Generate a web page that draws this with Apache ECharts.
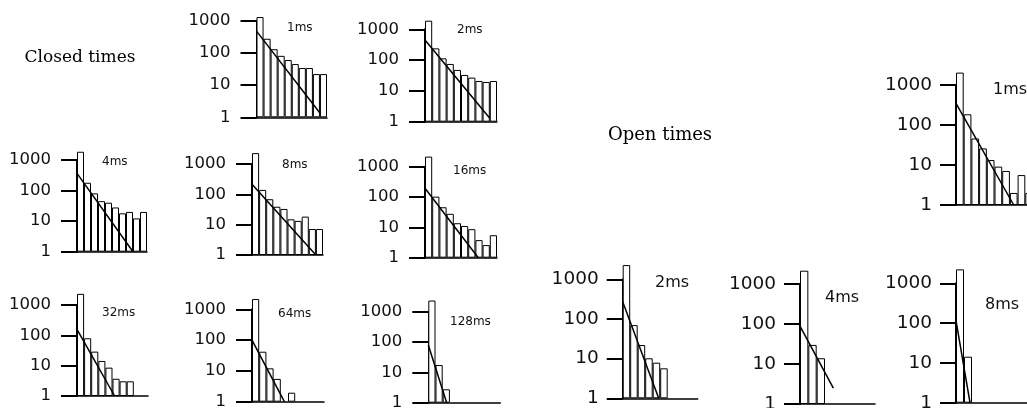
<!DOCTYPE html>
<html>
<head>
<meta charset="utf-8">
<script src="https://cdn.jsdelivr.net/npm/echarts@6/dist/echarts.min.js"></script>
<style>
html, body { margin: 0; padding: 0; background: #fff; }
#chart { width: 1027px; height: 408px; }
</style>
</head>
<body>
<div id="chart"></div>
<script>
// bin counts (log scale), null = empty bin
const closed1ms = [1300, 275, 130, 81, 60, 45, 34, 34, 22, 22];
const closed2ms = [1900, 240, 114, 75, 48, 33, 27, 21, 19.5, 21];
const closed4ms = [1860, 180, 81, 45, 40, 28, 18, 20, 12.3, 20];
const closed8ms = [2280, 140, 69, 39, 33, 15, 13.3, 18.4, 7.2, 7.2];
const closed16ms = [2150, 103, 46, 28, 13.7, 11.1, 8.7, 3.8, 2.6, 5.5];
const closed32ms = [2330, 80, 29, 14.3, 8.6, 3.7, 3.05, 3.05, null, null];
const closed64ms = [2150, 42, 12.1, 5.5, null, 1.96, null, null, null, null];
const closed128ms = [2330, 17.5, 2.77, null, null, null, null, null, null, null];
const open1ms = [2040, 185, 46, 26, 13.3, 9.1, 7.1, 2.0, 5.6, 2.0];
const open2ms = [2280, 70, 22, 10.2, 7.9, 5.7, null, null, null, null];
const open4ms = [2150, 30, 13.9, null, null, null, null, null, null];
const open8ms = [2240, 14.3, null, null, null, null, null, null, null, null];

// fitted exponential: [bin position, count] at both ends
const fitClosed1ms = [[0, 475], [9, 1.36]];
const fitClosed2ms = [[0, 450], [9, 1.3]];
const fitClosed4ms = [[0, 365], [8, 1]];
const fitClosed8ms = [[0, 215], [9, 1]];
const fitClosed16ms = [[0, 195], [7.4, 1]];
const fitClosed32ms = [[0, 158], [5.3, 1]];
const fitClosed64ms = [[0, 100], [4.5, 1]];
const fitClosed128ms = [[0, 80], [2.55, 1]];
const fitOpen1ms = [[0, 347], [7.5, 1]];
const fitOpen2ms = [[0, 270], [4.8, 1]];
const fitOpen4ms = [[0, 89], [4, 2.5]];
const fitOpen8ms = [[0, 115], [1.75, 1]];

const yTicks = [1, 10, 100, 1000];

// plot boxes [left, top, width, height] and where the bin-width tag sits
const panels = [
    { tag: '1ms', bars: closed1ms, fit: fitClosed1ms, box: [256.5, 20.7, 70.5, 96.6], at: [287, 27.5], big: false },
    { tag: '2ms', bars: closed2ms, fit: fitClosed2ms, box: [425, 29.3, 72, 92.4], at: [457, 30], big: false },
    { tag: '4ms', bars: closed4ms, fit: fitClosed4ms, box: [77, 160, 70, 91.7], at: [102, 162], big: false },
    { tag: '8ms', bars: closed8ms, fit: fitClosed8ms, box: [252, 164, 71, 91], at: [282, 165], big: false },
    { tag: '16ms', bars: closed16ms, fit: fitClosed16ms, box: [425, 166.7, 72, 91], at: [453, 171], big: false },
    { tag: '32ms', bars: closed32ms, fit: fitClosed32ms, box: [77, 305, 71, 91], at: [102, 313], big: false },
    { tag: '64ms', bars: closed64ms, fit: fitClosed64ms, box: [252, 309.3, 72, 92.4], at: [278, 314], big: false },
    { tag: '128ms', bars: closed128ms, fit: fitClosed128ms, box: [428.3, 311.7, 72, 91], at: [450, 322], big: false },
    { tag: '1ms', bars: open1ms, fit: fitOpen1ms, box: [956, 85, 77, 120], at: [993, 90], big: true },
    { tag: '2ms', bars: open2ms, fit: fitOpen2ms, box: [622.7, 279.3, 75, 119], at: [655, 283], big: true },
    { tag: '4ms', bars: open4ms, fit: fitOpen4ms, box: [800, 284, 75, 120], at: [825, 298], big: true },
    { tag: '8ms', bars: open8ms, fit: fitOpen8ms, box: [956, 283.3, 80, 119.4], at: [985, 305], big: true }
];

const grid = [], xAxis = [], yAxis = [], series = [], graphic = [];

panels.forEach((p, i) => {
    const n = p.bars.length;
    grid.push({
        left: p.box[0], top: p.box[1], width: p.box[2], height: p.box[3],
        outerBoundsMode: 'none'
    });
    xAxis.push({
        type: 'category', gridIndex: i,
        data: p.bars.map((v, k) => String(k + 1)),
        axisLine: { show: true, lineStyle: { color: '#000', width: 1.5 } },
        axisTick: { show: false },
        axisLabel: { show: false },
        splitLine: { show: false }
    });
    xAxis.push({
        type: 'value', gridIndex: i, min: 0, max: n, show: false
    });
    yAxis.push({
        type: 'log', logBase: 10, gridIndex: i, min: 1, max: 1000,
        axisLine: { show: true, lineStyle: { color: '#000', width: 2 } },
        axisTick: { show: true, length: 16, customValues: yTicks, lineStyle: { color: '#000', width: 2 } },
        axisLabel: {
            customValues: yTicks,
            margin: p.big ? 24 : 26,
            color: '#111',
            fontFamily: 'DejaVu Sans',
            fontSize: p.big ? 18.5 : 16.5,
            formatter: v => String(Math.round(v))
        },
        splitLine: { show: false }
    });
    series.push({
        type: 'bar', xAxisIndex: 2 * i, yAxisIndex: i,
        data: p.bars, barCategoryGap: '0%', clip: false,
        itemStyle: { color: '#fff', borderColor: '#000', borderWidth: 1 },
        silent: true
    });
    series.push({
        type: 'line', xAxisIndex: 2 * i + 1, yAxisIndex: i,
        data: p.fit, symbol: 'none', z: 5,
        lineStyle: { color: '#000', width: 1.5 },
        silent: true
    });
    graphic.push({
        type: 'text', x: p.at[0], y: p.at[1],
        style: {
            text: p.tag, fill: '#111', verticalAlign: 'middle',
            font: (p.big ? '16px' : '12px') + ' "DejaVu Sans"'
        }
    });
});

graphic.push({
    type: 'text', x: 80, y: 58,
    style: { text: 'Closed times', fill: '#000', align: 'center', verticalAlign: 'middle', font: '17px "DejaVu Serif"' }
});
graphic.push({
    type: 'text', x: 660, y: 135,
    style: { text: 'Open times', fill: '#000', align: 'center', verticalAlign: 'middle', font: '18px "DejaVu Serif"' }
});

const chart = echarts.init(document.getElementById('chart'));
chart.setOption({
    animation: false,
    backgroundColor: '#fff',
    grid: grid,
    xAxis: xAxis,
    yAxis: yAxis,
    series: series,
    graphic: graphic
});
</script>
</body>
</html>
